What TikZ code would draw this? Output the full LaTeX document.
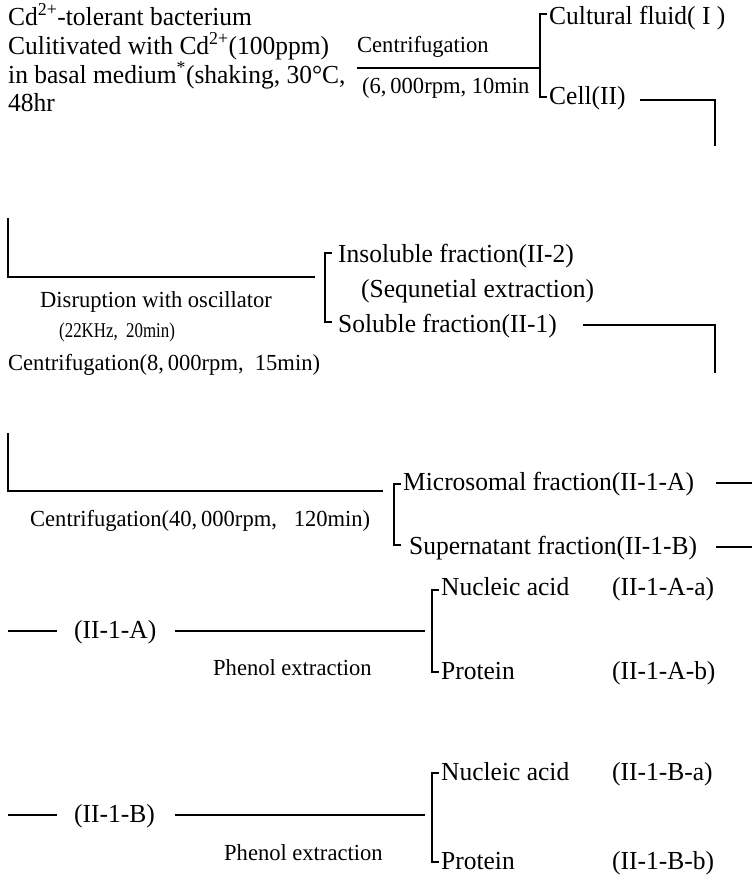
\documentclass[tikz,border=0pt]{standalone}
\usepackage{fontspec}
\setmainfont[FakeStretch=0.98]{Liberation Serif}
\newcommand{\bigtxt}{\fontsize{26}{30}\selectfont}
\newcommand{\smalltxt}{\fontsize{23}{27}\selectfont}
\newcommand{\khztxt}{\fontsize{21}{25}\selectfont}
\tikzset{
  lbl/.style={inner sep=0pt, anchor=base west, font=\bigtxt},
  sml/.style={inner sep=0pt, anchor=base west, font=\smalltxt},
  ln/.style={line width=1.1pt},
}
\begin{document}
\begin{tikzpicture}[x=1pt,y=-1pt]
\useasboundingbox (0,0) rectangle (754,884);
\fill[white] (0,0) rectangle (754,884);

% ---- block 1
\node[lbl] (t1) at (8,25) {Cd\textsuperscript{2+}-tolerant\ bacterium};
\node[lbl] (t2) at (8,54) {Culitivated\ with\ Cd\textsuperscript{2+}(100ppm)};
\node[lbl] (t3) at (8,83) {in\ basal\ medium\textsuperscript{*}(shaking, 30°C,};
\node[lbl] (t4) at (8,111) {48hr};
\node[sml] (c1) at (357,52) {Centrifugation};
\node[sml] (c1b) at (362,93) {(6,\,000rpm,\ 10min};
\coordinate (a1) at (357,68);
\coordinate (b1) at (540,68);
\draw[ln] (a1) -- (b1);
\coordinate (b1t) at (540,14);
\coordinate (b1b) at (540,97);
\draw[ln] ([xshift=7pt]b1t) -- (b1t) -- (b1b) -- ([xshift=7pt]b1b);
\node[lbl] (cf) at (549,24) {Cultural fluid( I )};
\node[lbl] (cell) at (549,104) {Cell(II)};
\coordinate (k1s) at (640,100);
\coordinate (k1) at (715,100);
\coordinate (k1d) at (715,146);
\draw[ln] (k1s) -- (k1) -- (k1d);

% ---- block 2
\coordinate (v2t) at (8,218);
\coordinate (v2b) at (8,277);
\coordinate (h2e) at (315,277);
\draw[ln] (v2t) -- (v2b) -- (h2e);
\node[sml] (dis) at (40,307) {Disruption\ with\ oscillator};
\node[sml, font=\khztxt] (khz) at (59,337) {\scalebox{0.82}[1]{(22KHz,\ \ 20min)}};
\node[sml] (c2) at (8,370) {Centrifugation(8,\,000rpm,\ \ 15min)};
\coordinate (b2t) at (325,253);
\coordinate (b2b) at (325,322);
\draw[ln] ([xshift=7pt]b2t) -- (b2t) -- (b2b) -- ([xshift=7pt]b2b);
\node[lbl] (ins) at (338,262) {Insoluble\ fraction(II-2)};
\node[lbl] (seq) at (361,297) {(Sequnetial\ extraction)};
\node[lbl] (sol) at (338,332) {Soluble\ fraction(II-1)};
\coordinate (k2s) at (583,325);
\coordinate (k2) at (715,325);
\coordinate (k2d) at (715,373);
\draw[ln] (k2s) -- (k2) -- (k2d);

% ---- block 3
\coordinate (v3t) at (8,433);
\coordinate (v3b) at (8,491);
\coordinate (h3e) at (383,491);
\draw[ln] (v3t) -- (v3b) -- (h3e);
\node[sml] (c3) at (30,526) {Centrifugation(40,\,000rpm,\ \ \ 120min)};
\coordinate (b3t) at (394,484);
\coordinate (b3b) at (394,545);
\draw[ln] ([xshift=7pt]b3t) -- (b3t) -- (b3b) -- ([xshift=7pt]b3b);
\node[lbl] (mic) at (403,490) {Microsomal\ fraction(II-1-A)};
\node[lbl] (sup) at (409,554) {Supernatant\ fraction(II-1-B)};
\coordinate (m3s) at (716,483);
\coordinate (m3) at (752,483);
\coordinate (s3s) at (716,547);
\coordinate (s3) at (752,547);
\draw[ln] (m3s) -- (m3);
\draw[ln] (s3s) -- (s3);

% ---- block 4
\node[lbl] (ia) at (74,638) {(II-1-A)};
\coordinate (l4s) at (8,631);
\coordinate (l4m) at (57,631);
\coordinate (l4n) at (175,631);
\coordinate (l4e) at (425,631);
\draw[ln] (l4s) -- (l4m);
\draw[ln] (l4n) -- (l4e);
\node[sml] (ph1) at (213,675) {Phenol\ extraction};
\coordinate (b4t) at (432,590);
\coordinate (b4b) at (432,672);
\draw[ln] ([xshift=7pt]b4t) -- (b4t) -- (b4b) -- ([xshift=7pt]b4b);
\node[lbl] (na1) at (441,595) {Nucleic\ acid};
\node[lbl] (na1id) at (612,595) {(II-1-A-a)};
\node[lbl] (pr1) at (441,679) {Protein};
\node[lbl] (pr1id) at (612,679) {(II-1-A-b)};

% ---- block 5
\node[lbl] (ib) at (74,822) {(II-1-B)};
\coordinate (l5s) at (8,815);
\coordinate (l5m) at (57,815);
\coordinate (l5n) at (175,815);
\coordinate (l5e) at (425,815);
\draw[ln] (l5s) -- (l5m);
\draw[ln] (l5n) -- (l5e);
\node[sml] (ph2) at (224,860) {Phenol\ extraction};
\coordinate (b5t) at (432,773);
\coordinate (b5b) at (432,862);
\draw[ln] ([xshift=7pt]b5t) -- (b5t) -- (b5b) -- ([xshift=7pt]b5b);
\node[lbl] (na2) at (441,780) {Nucleic\ acid};
\node[lbl] (na2id) at (612,780) {(II-1-B-a)};
\node[lbl] (pr2) at (441,869) {Protein};
\node[lbl] (pr2id) at (612,869) {(II-1-B-b)};
\end{tikzpicture}
\end{document}
